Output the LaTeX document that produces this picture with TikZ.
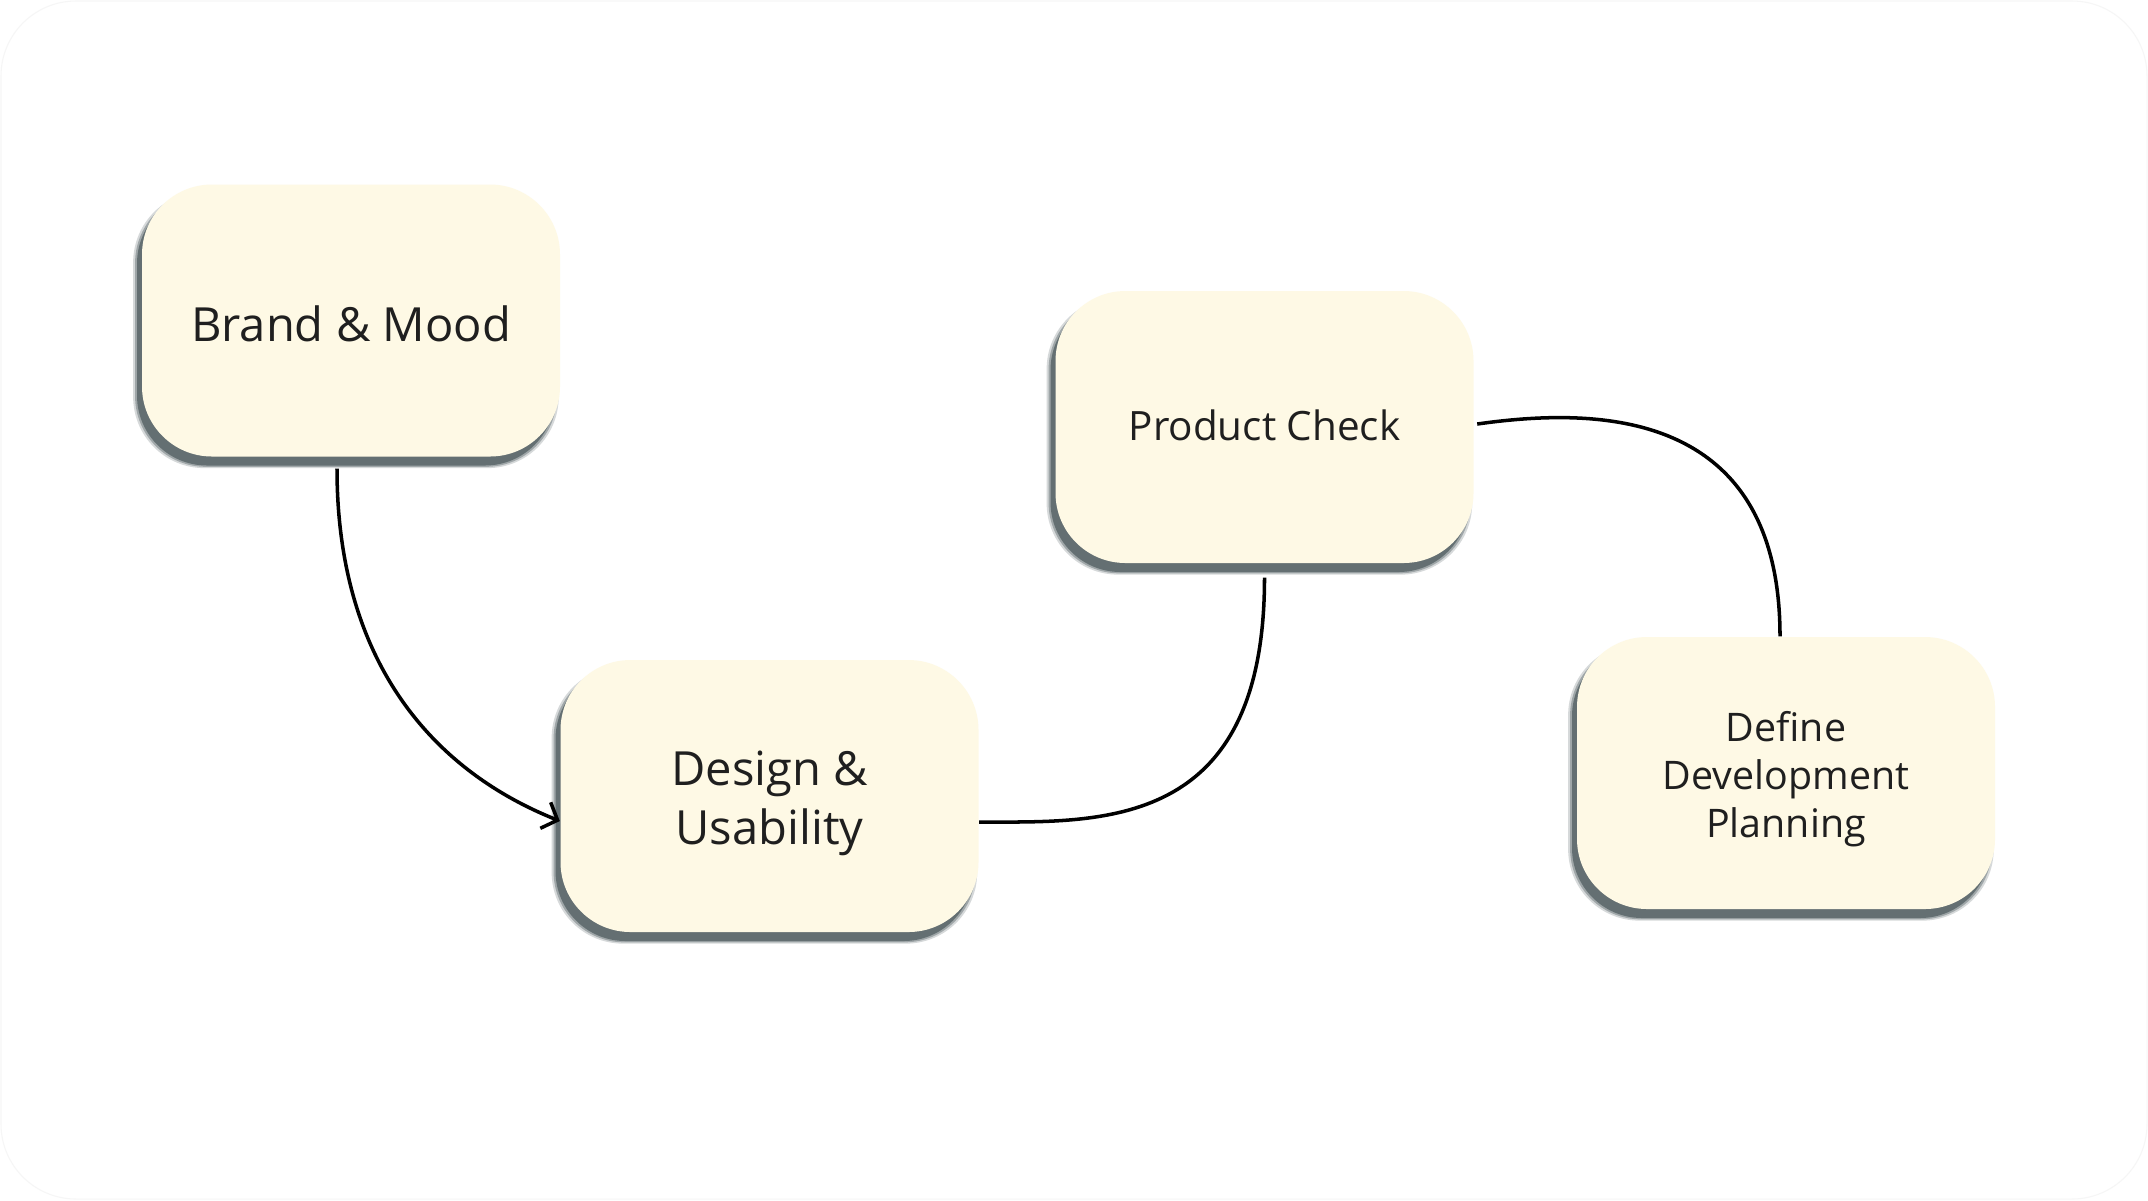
\documentclass[tikz,border=0pt]{standalone}
\usepackage{fontspec}
\setmainfont{Open Sans}
\usetikzlibrary{shadows,arrows.meta}
\definecolor{cardfill}{HTML}{FEF9E5}
\definecolor{shadowcol}{HTML}{5E6A6D}
\definecolor{textcol}{HTML}{1F1F1F}
\definecolor{framecol}{HTML}{F6F6F6}
\newcommand{\shiftedtext}[2]{\raisebox{#1}[\height][\depth]{\begin{tabular}{@{}c@{}}#2\end{tabular}}}
\begin{document}
\begin{tikzpicture}[
  card/.style={shape=rectangle, rounded corners=0.7cm, minimum width=4.18cm, minimum height=2.72cm,
    inner sep=0pt, fill=cardfill, text=textcol, align=center,
    general shadow={shadow xshift=-0.05cm, shadow yshift=-0.09cm, shadow scale=1.018, fill=shadowcol, opacity=0.25},
    general shadow={shadow xshift=-0.05cm, shadow yshift=-0.09cm, shadow scale=1.009, fill=shadowcol, opacity=0.45},
    general shadow={shadow xshift=-0.05cm, shadow yshift=-0.09cm, fill=shadowcol, opacity=0.9}},
  bigtext/.style={font=\fontsize{13.4}{16.8}\selectfont},
  midtext/.style={font=\fontsize{11.5}{14}\selectfont},
  smalltext/.style={font=\fontsize{11.2}{13.7}\selectfont},
  link/.style={draw=black, line width=1pt},
]
\useasboundingbox (0,0) rectangle (21.48,-12);
\fill[white] (0,0) rectangle (21.48,-12);
\draw[framecol, line width=0.3pt, rounded corners=0.75cm] (0.01,-0.01) rectangle (21.47,-11.99);

\node[card, bigtext] (brand) at (3.51,-3.205) {\shiftedtext{-0.095cm}{Brand \& Mood}};
\node[card, bigtext] (design) at (7.695,-7.96) {\shiftedtext{-0.07cm}{Design \&\\Usability}};
\node[card, midtext] (product) at (12.645,-4.27) {\shiftedtext{-0.035cm}{Product Check}};
\node[card, smalltext] (define) at (17.86,-7.73) {\shiftedtext{-0.07cm}{Define\\Development\\Planning}};

\draw[link, -{Straight Barb[length=0.13cm, width=0.28cm]}]
  ([xshift=-0.14cm, yshift=-0.115cm]brand.south) .. controls +(0,-1.92) and +(-1.28,0.51) .. ([yshift=-0.25cm]design.west);
\draw[link]
  ([yshift=-0.14cm]product.south) .. controls +(0,-2.53) and +(1.23,0) .. ([yshift=-0.26cm]design.east);
\draw[link]
  ([xshift=0.03cm, yshift=0.03cm]product.east) .. controls +(1.13,0.16) and +(0,2.32) .. ([xshift=-0.06cm]define.north);
\end{tikzpicture}
\end{document}
